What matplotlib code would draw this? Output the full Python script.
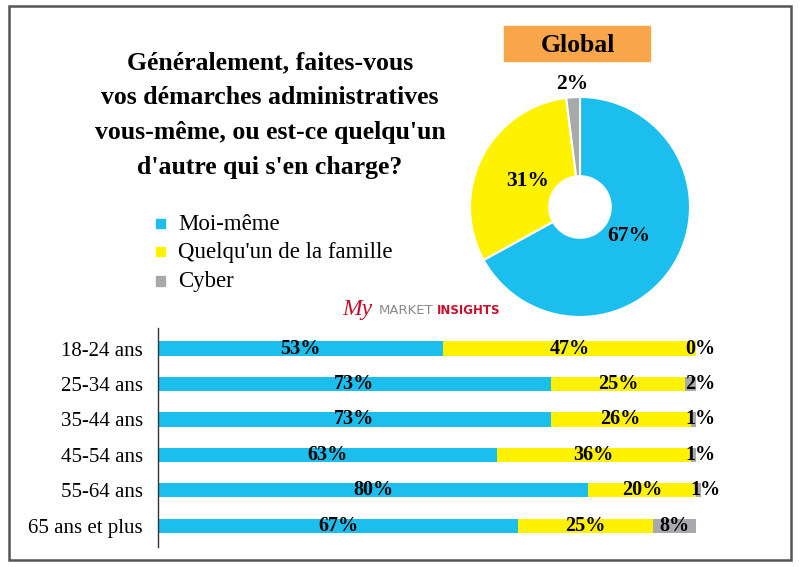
import numpy as np
import matplotlib.pyplot as plt
from matplotlib.patches import Rectangle

# data
categories = ['18-24 ans', '25-34 ans', '35-44 ans', '45-54 ans', '55-64 ans', '65 ans et plus']
moi_meme = [53, 73, 73, 63, 80, 67]
famille = [47, 25, 26, 36, 20, 25]
cyber = [0, 2, 1, 1, 1, 8]

global_labels = ['Moi-même', "Quelqu'un de la famille", 'Cyber']
global_values = [67, 31, 2]

colors = ['#1CBEEE', '#FFF200', '#A7A9AC']
serif = 'Liberation Serif'

fig = plt.figure(figsize=(8, 5.67), dpi=100)
W, H = 800, 567


def fig_rect(left, top, width, height):
    return [left / W, (H - top - height) / H, width / W, height / H]


# outer frame
fig.patches.append(Rectangle((9 / W, (H - 560) / H), 782 / W, 554 / H,
                             transform=fig.transFigure, fill=False,
                             edgecolor='#555555', linewidth=1.8))

# title
fig.text(270 / W, 1 - 51 / H,
         "Généralement, faites-vous\nvos démarches administratives\n"
         "vous-même, ou est-ce quelqu'un\nd'autre qui s'en charge?",
         ha='center', va='top', fontsize=18.5, fontweight='bold',
         family=serif, linespacing=1.67)

# legend
leg_y = [223, 252, 281]
for lab, col, y in zip(global_labels, colors, leg_y):
    fig.patches.append(Rectangle((156 / W, 1 - (y + 4.5) / H), 9 / W, 9 / H,
                                 transform=fig.transFigure, color=col))
    fig.text(178 / W, 1 - (y + 1) / H, lab, ha='left', va='center',
             fontsize=16.5, family=serif)

# logo
fig.text(342 / W, 1 - 309 / H, 'My', ha='left', va='center', fontsize=17,
         style='italic', family=serif, color='#C8102E')
fig.text(379 / W, 1 - 310 / H, 'MARKET', ha='left', va='center', fontsize=9.5,
         family='DejaVu Sans', color='#8a8a8a')
fig.text(437 / W, 1 - 310 / H, 'INSIGHTS', ha='left', va='center', fontsize=8.5,
         fontweight='bold', family='DejaVu Sans', color='#C8102E')

# Global box
fig.patches.append(Rectangle((504 / W, 1 - 61 / H), 146 / W, 35 / H,
                             transform=fig.transFigure, color='#F9A64A'))
fig.text(578 / W, 1 - 45 / H, 'Global', ha='center', va='center',
         fontsize=18.5, fontweight='bold', family=serif)

# donut
axp = fig.add_axes(fig_rect(448, 75, 264, 264))
wedges, _ = axp.pie(global_values, colors=colors, startangle=90, counterclock=False,
                    radius=1, wedgeprops=dict(width=0.72, edgecolor='white', linewidth=1.5))
axp.set_xlim(-1.2, 1.2)
axp.set_ylim(-1.2, 1.2)
axp.set_aspect('equal')
axp.axis('off')
start = 90
dists = [0.52, 0.53, 1.12]
for v, d in zip(global_values, dists):
    mid = np.deg2rad(start - v * 3.6 / 2)
    start -= v * 3.6
    axp.text(d * np.cos(mid), d * np.sin(mid), f'{v}%', ha='center', va='center',
             fontsize=15.5, fontweight='bold', family=serif)

# stacked bars
ax = fig.add_axes(fig_rect(158, 328, 616, 219))
y = np.arange(len(categories))
left2 = np.array(moi_meme)
left3 = left2 + np.array(famille)
ax.barh(y, moi_meme, height=0.4, color=colors[0])
ax.barh(y, famille, left=left2, height=0.4, color=colors[1])
ax.barh(y, cyber, left=left3, height=0.4, color=colors[2])
ax.set_xlim(0, 114.5)
ax.set_ylim(5.6, -0.58)
for i in range(len(categories)):
    ax.text(moi_meme[i] / 2, i, f'{moi_meme[i]}%', ha='center', va='center',
            fontsize=14.5, fontweight='bold', family=serif)
    ax.text(left2[i] + famille[i] / 2, i, f'{famille[i]}%', ha='center', va='center',
            fontsize=14.5, fontweight='bold', family=serif)
    if cyber[i] >= 5:
        cx = left3[i] + cyber[i] / 2
    else:
        cx = left3[i] + cyber[i] + 0.8
    ax.text(cx, i, f'{cyber[i]}%', ha='center', va='center',
            fontsize=14.5, fontweight='bold', family=serif)

ax.set_yticks(y)
ax.set_yticklabels(categories, fontsize=15, family=serif)
ax.tick_params(axis='y', length=0, pad=11)
ax.set_xticks([])
for s in ['top', 'right', 'bottom']:
    ax.spines[s].set_visible(False)
ax.spines['left'].set_color('#333333')
ax.spines['left'].set_linewidth(1)

fig.savefig('out.png', dpi=100)
